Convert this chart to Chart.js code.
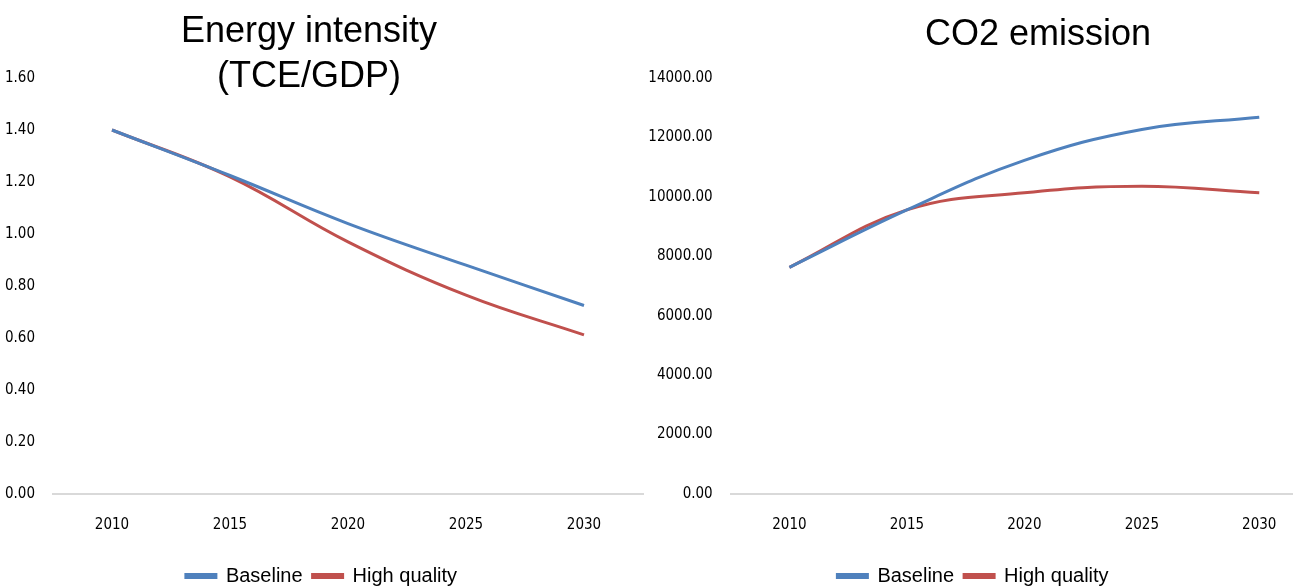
<!DOCTYPE html>
<html>
<head>
<meta charset="utf-8">
<script src="https://cdn.jsdelivr.net/npm/chart.js@4/dist/chart.umd.min.js"></script>
<style>
  body { margin: 0; background: #fff; overflow: hidden; width: 1293px; height: 586px; position: relative; }
  .box { position: absolute; top: 0; height: 586px; }
  #boxLeft { left: 0; width: 650px; }
  #boxRight { left: 628px; width: 697px; }
</style>
</head>
<body>
<div class="box" id="boxLeft"><canvas id="chartLeft"></canvas></div>
<div class="box" id="boxRight"><canvas id="chartRight"></canvas></div>
<script>
// dados
const anos = ['2010', '2015', '2020', '2025', '2030'];

const intensidadeBase = [1.40, 1.225, 1.04, 0.88, 0.725];
const intensidadeHQ = [1.40, 1.22, 0.97, 0.765, 0.612];

const co2Base = [7630, 9560, 11230, 12270, 12680];
const co2HQ = [7630, 9560, 10140, 10360, 10140];

const azul = '#4f81bd';
const vermelho = '#c0504d';
const fonteEixo = '"Liberation Sans Narrow", "DejaVu Sans Condensed", Arial, sans-serif';
const fonteTitulo = '"Liberation Sans", Arial, sans-serif';

// titulo desenhado em posicao fixa (sobrepoe a area do grafico como no original)
const tituloFixo = {
  id: 'tituloFixo',
  afterDraw(chart, args, opts) {
    const ctx = chart.ctx;
    ctx.save();
    ctx.fillStyle = '#000';
    ctx.font = '36px ' + fonteTitulo;
    ctx.textAlign = 'center';
    ctx.textBaseline = 'middle';
    opts.lines.forEach((t, i) => ctx.fillText(t, opts.x, opts.y + i * 45));
    ctx.restore();
  }
};

function criarGrafico(id, base, hq, maxY, passo, larguraEixo, titulo) {
  return new Chart(document.getElementById(id), {
    type: 'line',
    data: {
      labels: anos,
      datasets: [
        { label: 'Baseline', data: base, borderColor: azul, backgroundColor: azul, borderWidth: 3, pointRadius: 0, tension: 0.4 },
        { label: 'High quality', data: hq, borderColor: vermelho, backgroundColor: vermelho, borderWidth: 3, pointRadius: 0, tension: 0.4 }
      ]
    },
    options: {
      responsive: true,
      maintainAspectRatio: false,
      animation: false,
      layout: { padding: { top: 78, right: 7, bottom: -10, left: 0 } },
      scales: {
        x: {
          offset: true,
          grid: { display: false, drawTicks: false },
          border: { display: true, color: '#d9d9d9', width: 2 },
          ticks: { color: '#000', font: { family: fonteEixo, size: 15 }, padding: 22, maxRotation: 0 }
        },
        y: {
          min: 0,
          max: maxY,
          grid: { display: false, drawTicks: false },
          border: { display: false },
          ticks: {
            stepSize: passo,
            color: '#000',
            font: { family: fonteEixo, size: 15 },
            padding: 18,
            callback: v => v.toFixed(2)
          },
          afterFit(axis) { axis.width = larguraEixo; }
        }
      },
      plugins: {
        legend: {
          position: 'bottom',
          labels: {
            color: '#000',
            boxWidth: 30,
            boxHeight: 3,
            padding: 10,
            font: { family: fonteTitulo, size: 20 }
          }
        },
        tooltip: { enabled: false },
        tituloFixo: titulo
      }
    },
    plugins: [tituloFixo]
  });
}

criarGrafico('chartLeft', intensidadeBase, intensidadeHQ, 1.6, 0.2, 53,
  { lines: ['Energy intensity', '(TCE/GDP)'], x: 309, y: 32 });
criarGrafico('chartRight', co2Base, co2HQ, 14000, 2000, 102.7,
  { lines: ['CO2 emission'], x: 410, y: 35 });
</script>
</body>
</html>
